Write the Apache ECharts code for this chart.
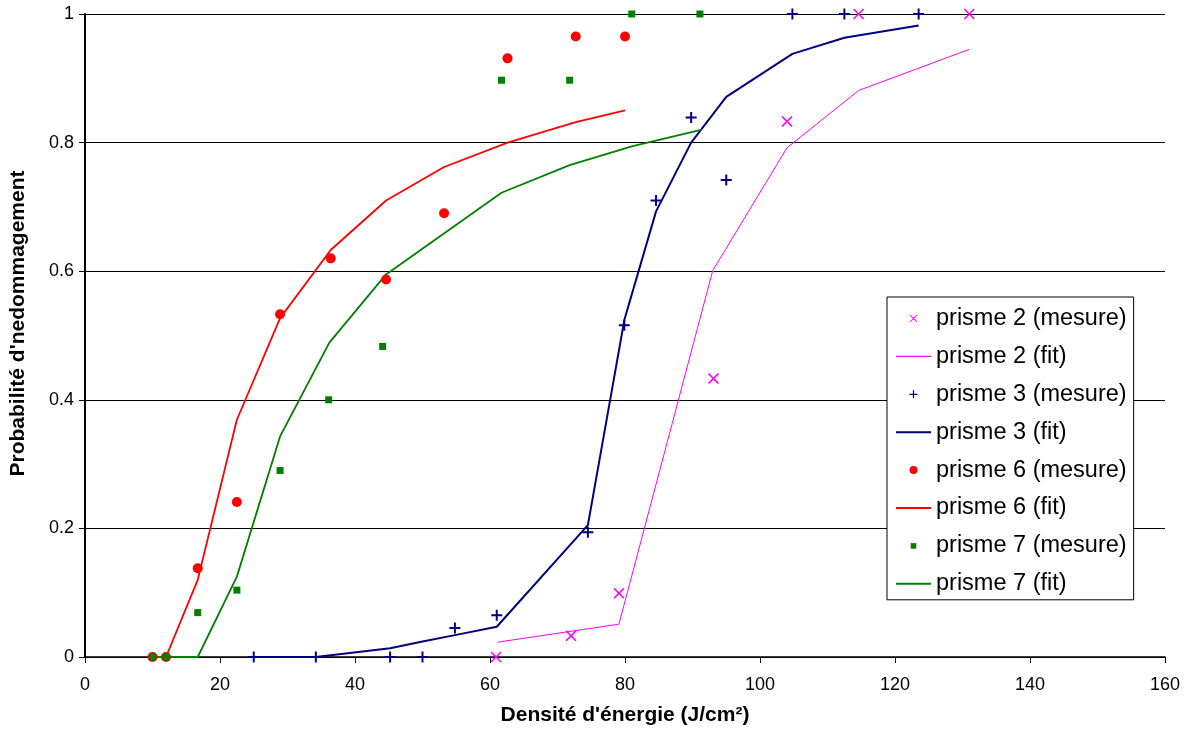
<!DOCTYPE html>
<html>
<head>
<meta charset="utf-8">
<script src="https://cdn.jsdelivr.net/npm/echarts@6/dist/echarts.min.js"></script>
<style>
html,body{margin:0;padding:0;background:#fff;}
#chart{width:1191px;height:733px;}
</style>
</head>
<body>
<div id="chart"></div>
<script>
// ---- data ----
const xTicks = [0, 20, 40, 60, 80, 100, 120, 140, 160];
const yTicks = [0, 0.2, 0.4, 0.6, 0.8, 1];

const p2MesX = [60.9, 72.0, 79.1, 93.1, 104.0, 114.6, 131.0];
const p2MesY = [0, 0.033, 0.099, 0.433, 0.833, 1.0, 1.0];
const p2FitX = [61.1, 72.0, 79.1, 93.0, 104.0, 114.6, 131.0];
const p2FitY = [0.023, 0.040, 0.051, 0.601, 0.792, 0.881, 0.945];

const p3MesX = [25.0, 34.2, 45.2, 50.0, 54.8, 61.0, 74.5, 79.9, 84.6, 89.8, 95.0, 104.8, 112.5, 123.5];
const p3MesY = [0, 0, 0, 0, 0.045, 0.065, 0.194, 0.516, 0.710, 0.839, 0.742, 1.0, 1.0, 1.0];
const p3FitX = [25.0, 34.2, 45.2, 50.0, 54.8, 61.0, 74.5, 79.9, 84.6, 89.8, 95.0, 104.8, 112.5, 123.5];
const p3FitY = [0, 0, 0.0135, 0.024, 0.034, 0.047, 0.205, 0.524, 0.693, 0.800, 0.871, 0.938, 0.963, 0.982];

const p6MesX = [10, 12, 16.7, 22.5, 28.9, 36.4, 44.6, 53.2, 62.6, 72.7, 80.0];
const p6MesY = [0, 0, 0.138, 0.241, 0.533, 0.620, 0.587, 0.690, 0.931, 0.965, 0.965];
const p6FitX = [10, 12, 16.7, 22.5, 28.9, 36.4, 44.6, 53.2, 62.6, 72.7, 80.0];
const p6FitY = [0, 0, 0.120, 0.369, 0.527, 0.633, 0.710, 0.762, 0.800, 0.832, 0.850];

const p7MesX = [10, 12, 16.7, 22.5, 28.9, 36.1, 44.1, 61.7, 71.8, 81.0, 91.1];
const p7MesY = [0, 0, 0.069, 0.104, 0.290, 0.400, 0.483, 0.897, 0.897, 1.0, 1.0];
const p7FitX = [10, 12, 16.7, 22.5, 28.9, 36.2, 44.6, 61.7, 71.8, 81.0, 91.4];
const p7FitY = [0, 0, 0, 0.125, 0.343, 0.489, 0.595, 0.722, 0.765, 0.794, 0.820];

const names = [
  'prisme 2 (mesure)', 'prisme 2 (fit)',
  'prisme 3 (mesure)', 'prisme 3 (fit)',
  'prisme 6 (mesure)', 'prisme 6 (fit)',
  'prisme 7 (mesure)', 'prisme 7 (fit)'
];

function pairs(xs, ys) { return xs.map((x, i) => [x, ys[i]]); }

// marker shapes
const X_PATH = 'path://M1,0L5,4L9,0L10,1L6,5L10,9L9,10L5,6L1,10L0,9L4,5L0,1Z';
const PLUS_PATH = 'path://M4.1,0H5.9V4.1H10V5.9H5.9V10H4.1V5.9H0V4.1H4.1Z';
// legend icons (padded box so the marker is drawn small)
const X_LEG = 'path://M0,0M20,20M5.4,4.5L10,9.1L14.6,4.5L15.5,5.4L10.9,10L15.5,14.6L14.6,15.5L10,10.9L5.4,15.5L4.5,14.6L9.1,10L4.5,5.4Z';
const PLUS_LEG = 'path://M0,0M20,20M9.1,4.3H10.9V9.1H15.7V10.9H10.9V15.7H9.1V10.9H4.3V9.1H9.1Z';
const CIRC_LEG = 'path://M0,0M20,20M15.7,10A5.7,5.7 0 1 1 4.3,10A5.7,5.7 0 1 1 15.7,10Z';
const SQ_LEG = 'path://M0,0M20,20M6,6H14V14H6Z';
const LINE_LEG = 'path://M0,0H35V2H0Z';
const LINE_LEG_THIN = 'path://M0,0H35V1.2H0Z';

const C2 = '#FF00FF', C3 = '#000080', C6 = '#FF0000', C7 = '#008000';

const chart = echarts.init(document.getElementById('chart'), null, {renderer: 'canvas'});
const FONT = 'Liberation Sans, Arial, sans-serif';

function scatter(name, xs, ys, symbol, size, color) {
  return {
    name, type: 'scatter', data: pairs(xs, ys), symbol, symbolSize: size,
    itemStyle: {color, opacity: 1}, clip: false, z: 3,
    emphasis: {disabled: true}
  };
}
function line(name, xs, ys, color, width) {
  return {
    name, type: 'line', data: pairs(xs, ys), symbol: 'none', showSymbol: false,
    lineStyle: {color, width}, itemStyle: {color}, clip: false, z: 2,
    emphasis: {disabled: true}
  };
}

chart.setOption({
  animation: false,
  backgroundColor: '#fff',
  textStyle: {fontFamily: FONT},
  grid: {left: 85, right: 26, top: 14, bottom: 76, containLabel: false},
  xAxis: {
    type: 'value', min: xTicks[0], max: xTicks[xTicks.length - 1], interval: 20,
    name: "Densité d'énergie (J/cm²)", nameLocation: 'middle', nameGap: 48,
    nameTextStyle: {fontFamily: FONT, fontWeight: 'bold', fontSize: 21, color: '#000'},
    axisLine: {onZero: false, lineStyle: {color: '#000', width: 1.5}},
    axisTick: {show: true, inside: false, length: 6, lineStyle: {color: '#000'}},
    axisLabel: {fontFamily: FONT, fontSize: 18, color: '#000', margin: 19},
    splitLine: {show: false}
  },
  yAxis: {
    type: 'value', min: yTicks[0], max: yTicks[yTicks.length - 1], interval: 0.2,
    name: "Probabilité d'nedommagement", nameLocation: 'middle', nameGap: 56,
    nameTextStyle: {fontFamily: FONT, fontWeight: 'bold', fontSize: 21, color: '#000', padding: [0, 0, 0, 24]},
    axisLine: {show: true, lineStyle: {color: '#000', width: 2}},
    axisTick: {show: true, inside: false, length: 6, lineStyle: {color: '#000'}},
    axisLabel: {
      fontFamily: FONT, fontSize: 18, color: '#000', margin: 11,
      formatter: v => (v === 0 ? '0' : (Math.abs(v - 1) < 1e-9 ? '1' : v.toFixed(1)))
    },
    splitLine: {show: true, lineStyle: {color: '#000', width: 1}}
  },
  legend: {
    orient: 'vertical', left: 887, top: 297,
    padding: [9.5, 7, 4, 9],
    itemWidth: 35, itemHeight: 14, itemGap: 13.9,
    borderColor: '#000', borderWidth: 1, backgroundColor: '#fff',
    textStyle: {fontFamily: FONT, fontSize: 23.5, color: '#000'},
    selectedMode: false,
    data: [
      {name: names[0], icon: X_LEG},
      {name: names[1], icon: LINE_LEG_THIN},
      {name: names[2], icon: PLUS_LEG},
      {name: names[3], icon: LINE_LEG},
      {name: names[4], icon: CIRC_LEG},
      {name: names[5], icon: LINE_LEG},
      {name: names[6], icon: SQ_LEG},
      {name: names[7], icon: LINE_LEG}
    ]
  },
  series: [
    scatter(names[0], p2MesX, p2MesY, X_PATH, 11, C2),
    line(names[1], p2FitX, p2FitY, C2, 1),
    scatter(names[2], p3MesX, p3MesY, PLUS_PATH, 11, C3),
    line(names[3], p3FitX, p3FitY, C3, 2),
    scatter(names[4], p6MesX, p6MesY, 'circle', 10, C6),
    line(names[5], p6FitX, p6FitY, C6, 1.8),
    scatter(names[6], p7MesX, p7MesY, 'rect', 7, C7),
    line(names[7], p7FitX, p7FitY, C7, 1.8)
  ]
});
</script>
</body>
</html>
